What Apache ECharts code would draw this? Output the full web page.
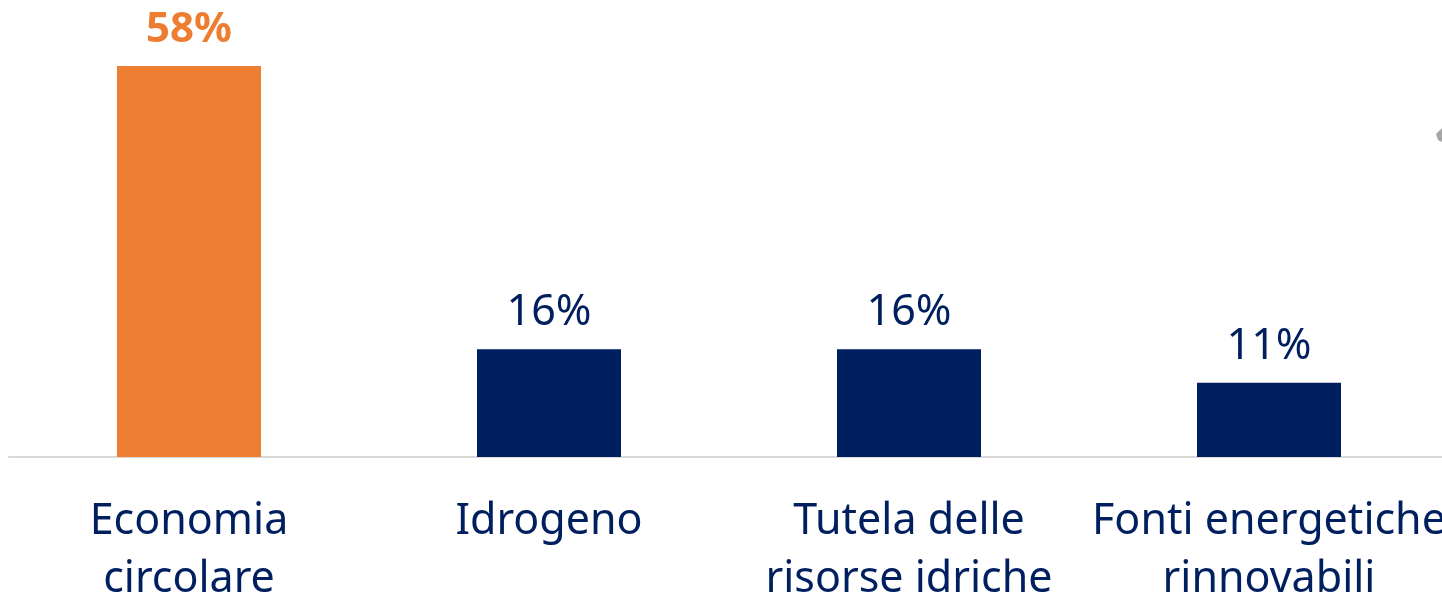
<!DOCTYPE html>
<html><head><meta charset="utf-8">
<style>html,body{margin:0;padding:0;background:#fff;overflow:hidden}#c{width:1442px;height:602px}</style>
<script src="https://cdn.jsdelivr.net/npm/echarts@6/dist/echarts.min.js"></script>
</head><body><div id="c"></div>
<script>
const categories = ['Economia\ncircolare', 'Idrogeno', 'Tutela delle\nrisorse idriche', 'Fonti energetiche\nrinnovabili'];
const values = [58, 16, 16, 11];
const highlightIndex = 0;

const FONT = '"Noto Sans", sans-serif';
const NAVY = '#001F5F';
const ORANGE = '#ED7D31';

const chart = echarts.init(document.getElementById('c'), null, {renderer: 'canvas', width: 1442, height: 602});
chart.setOption({
  animation: false,
  grid: {left: 9, top: 66, width: 1440, height: 391, containLabel: false, outerBoundsMode: 'none'},
  xAxis: {
    type: 'category', data: categories,
    axisLine: {show: true, lineStyle: {color: '#D9D9D9', width: 2}},
    axisTick: {show: false},
    axisLabel: {color: NAVY, fontFamily: FONT, fontSize: 43, lineHeight: 58, margin: 36, interval: 0, hideOverlap: false}
  },
  yAxis: {type: 'value', min: 0, max: 58, show: false, splitLine: {show: false}},
  series: [{
    type: 'bar', barWidth: 144,
    data: values.map((v, i) => ({
      value: v,
      itemStyle: {color: i === highlightIndex ? ORANGE : NAVY},
      label: i === highlightIndex ? {color: ORANGE, fontWeight: 'bold', fontSize: 42} : {}
    })),
    label: {show: true, position: 'top', distance: 15, formatter: '{c}%', color: NAVY, fontFamily: FONT, fontSize: 43}
  }],
  graphic: [{
    type: 'polygon', shape: {points: [[1442, 128], [1436, 134], [1438, 140], [1442, 142]]},
    style: {fill: '#A6A6A6'}
  }]
});
</script></body></html>
